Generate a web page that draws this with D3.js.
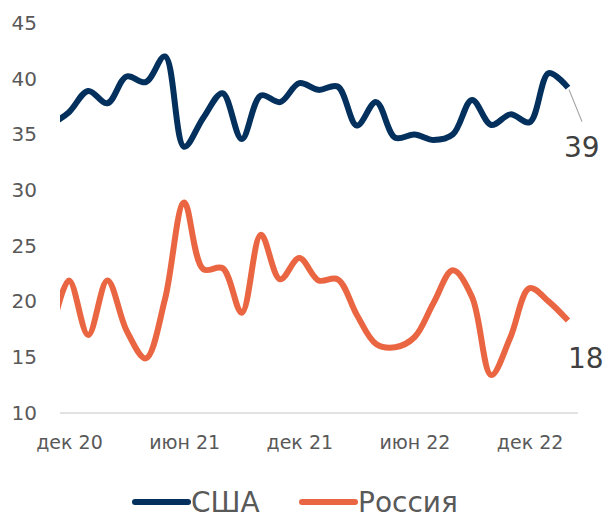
<!DOCTYPE html>
<html>
<head>
<meta charset="utf-8">
<script src="https://cdn.jsdelivr.net/npm/d3@7"></script>
<style>
  body { margin: 0; background: #fff; }
  svg { display: block; font-family: "DejaVu Sans", sans-serif; }
  .tick text { fill: #595959; }
</style>
</head>
<body>
<svg width="603" height="518"></svg>
<script>
// data: monthly, ноя 20 .. фев 23 (first point sits left of the axis and gets clipped)
const months = ["ноя 20", "дек 20", "янв 21", "фев 21", "мар 21", "апр 21", "май 21", "июн 21",
  "июл 21", "авг 21", "сен 21", "окт 21", "ноя 21", "дек 21", "янв 22", "фев 22", "мар 22",
  "апр 22", "май 22", "июн 22", "июл 22", "авг 22", "сен 22", "окт 22", "ноя 22", "дек 22",
  "янв 23", "фев 23"];
const usa = [35.8, 37.0, 38.9, 37.8, 40.2, 39.7, 42.0, 33.9, 36.5, 38.7, 34.6, 38.5, 37.9, 39.6,
  39.0, 39.3, 35.8, 37.9, 34.7, 35.0, 34.5, 35.0, 38.1, 35.85, 36.8, 36.1, 40.5, 39.2];
const russia = [16.5, 21.9, 17.0, 21.9, 17.4, 14.9, 20.2, 28.9, 22.9, 23.0, 19.0, 26.0, 22.0, 23.9,
  21.9, 22.0, 18.8, 16.2, 15.9, 16.8, 19.9, 22.8, 20.4, 13.4, 16.8, 21.2, 20.0, 18.3];
const xTicks = ["дек 20", "июн 21", "дек 21", "июн 22", "дек 22"];
const yTicks = [10, 15, 20, 25, 30, 35, 40, 45];
const seriesNames = ["США", "Россия"];
const colors = ["#03305c", "#ea6642"];

const svg = d3.select("svg");
const plotLeft = 60, plotRight = 578;

const x = d3.scalePoint().domain(months).range([49.8, 568]);
const y = d3.scaleLinear().domain([10, 45]).range([413, 23]);

svg.append("defs").append("clipPath").attr("id", "plot")
  .append("rect").attr("x", plotLeft).attr("y", 0)
  .attr("width", plotRight - plotLeft + 10).attr("height", 518);

// baseline
svg.append("line")
  .attr("x1", plotLeft).attr("x2", plotRight)
  .attr("y1", y(10)).attr("y2", y(10))
  .attr("stroke", "#d9d9d9").attr("stroke-width", 1.5);

// y axis, labels only
const yAxis = svg.append("g")
  .attr("transform", "translate(37,0)")
  .call(d3.axisLeft(y).tickValues(yTicks).tickSize(0).tickPadding(0));
yAxis.select(".domain").remove();
yAxis.selectAll("text").attr("font-size", 20).attr("font-family", "'DejaVu Sans', sans-serif");

// x axis, labels only
const xAxis = svg.append("g")
  .attr("transform", `translate(0,${y(10)})`)
  .call(d3.axisBottom(x).tickValues(xTicks).tickSize(0).tickPadding(23));
xAxis.select(".domain").remove();
xAxis.selectAll("text").attr("font-size", 19).attr("font-family", "'DejaVu Sans', sans-serif");

const line = d3.line()
  .x((d, i) => x(months[i]))
  .y(d => y(d))
  .curve(d3.curveCatmullRom.alpha(0.5));

const g = svg.append("g").attr("clip-path", "url(#plot)");
[usa, russia].forEach((s, k) => {
  g.append("path")
    .attr("d", line(s))
    .attr("fill", "none")
    .attr("stroke", colors[k])
    .attr("stroke-width", 6)
    .attr("stroke-linejoin", "round");
});

// end labels
const last = months[months.length - 1];
const usaLast = usa[usa.length - 1];
const ruLast = russia[russia.length - 1];

svg.append("line")
  .attr("x1", x(last) + 1).attr("y1", y(usaLast) + 2)
  .attr("x2", x(last) + 14).attr("y2", y(usaLast) + 34)
  .attr("stroke", "#a6a6a6").attr("stroke-width", 1.2);

svg.append("text")
  .attr("x", x(last) - 4).attr("y", y(usaLast) + 69)
  .attr("font-size", 28).attr("fill", "#404040")
  .text(Math.round(usaLast));

svg.append("text")
  .attr("x", x(last)).attr("y", y(ruLast) + 47)
  .attr("font-size", 28).attr("fill", "#404040")
  .text(Math.round(ruLast));

// legend
const legend = svg.append("g").attr("transform", "translate(0,502)");
const legendX = [135, 302];
seriesNames.forEach((name, k) => {
  legend.append("line")
    .attr("x1", legendX[k]).attr("x2", legendX[k] + 53)
    .attr("y1", 0).attr("y2", 0)
    .attr("stroke", colors[k]).attr("stroke-width", 6)
    .attr("stroke-linecap", "round");
  legend.append("text")
    .attr("x", legendX[k] + 56).attr("y", 10)
    .attr("font-size", 28).attr("fill", "#595959")
    .text(name);
});
</script>
</body>
</html>
